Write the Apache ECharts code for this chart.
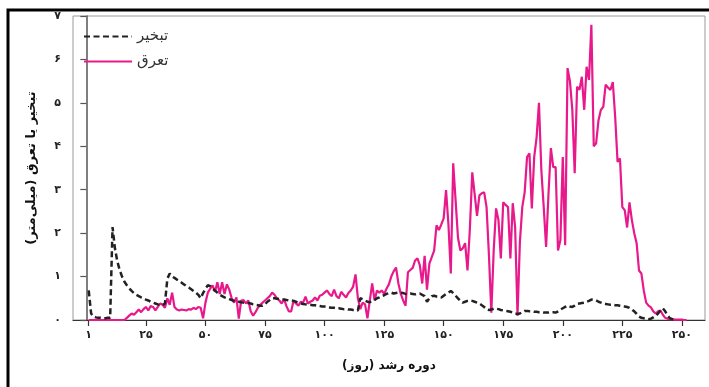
<!DOCTYPE html>
<html>
<head>
<meta charset="utf-8">
<script src="https://cdn.jsdelivr.net/npm/echarts@6/dist/echarts.min.js"></script>
<style>
  html, body { margin: 0; padding: 0; background: #fff; }
  #chart { width: 709px; height: 387px; }
</style>
</head>
<body>
<div id="chart"></div>
<script>
// Daily evaporation and transpiration (mm) over the growing season, day 1 onwards
const seriesNames = ['تبخیر', 'تعرق'];
const xTickValues = [1, 25, 50, 75, 100, 125, 150, 175, 200, 225, 250];
const xAxisTitle = 'دوره رشد (روز)';
const yAxisTitle = 'تبخیر یا تعرق (میلی‌متر)';

const evaporation = [
  0.68, 0.15, 0.08, 0.06, 0.05, 0.05, 0.04, 0.04, 0.05, 0.05,
  2.14, 1.65, 1.35, 1.15, 1.00, 0.88, 0.80, 0.73, 0.67, 0.62,
  0.58, 0.55, 0.52, 0.50, 0.47, 0.45, 0.42, 0.40, 0.38, 0.36,
  0.35, 0.34, 0.38, 0.95, 1.07, 1.00, 0.97, 0.93, 0.90, 0.86,
  0.82, 0.78, 0.75, 0.71, 0.67, 0.63, 0.58, 0.50, 0.62, 0.72,
  0.80, 0.78, 0.72, 0.68, 0.63, 0.58, 0.55, 0.52, 0.50, 0.48,
  0.46, 0.44, 0.42, 0.42, 0.41, 0.40, 0.40, 0.39, 0.38, 0.36,
  0.35, 0.34, 0.33, 0.33, 0.36, 0.42, 0.46, 0.50, 0.50, 0.49,
  0.48, 0.47, 0.47, 0.46, 0.45, 0.45, 0.44, 0.42, 0.40, 0.38,
  0.37, 0.36, 0.35, 0.35, 0.34, 0.34, 0.33, 0.32, 0.31, 0.31,
  0.30, 0.29, 0.28, 0.28, 0.27, 0.27, 0.26, 0.25, 0.25, 0.24,
  0.24, 0.23, 0.23, 0.22, 0.50, 0.48, 0.45, 0.42, 0.41, 0.43,
  0.46, 0.50, 0.52, 0.55, 0.57, 0.60, 0.62, 0.63, 0.61, 0.62,
  0.63, 0.63, 0.62, 0.60, 0.60, 0.61, 0.60, 0.59, 0.60, 0.61,
  0.58, 0.55, 0.42, 0.50, 0.55, 0.56, 0.54, 0.53, 0.52, 0.56,
  0.60, 0.63, 0.67, 0.62, 0.56, 0.50, 0.44, 0.40, 0.42, 0.44,
  0.45, 0.44, 0.42, 0.40, 0.38, 0.34, 0.30, 0.25, 0.23, 0.24,
  0.26, 0.26, 0.25, 0.23, 0.22, 0.21, 0.20, 0.19, 0.17, 0.15,
  0.14, 0.15, 0.18, 0.21, 0.21, 0.20, 0.20, 0.19, 0.19, 0.18,
  0.18, 0.17, 0.17, 0.17, 0.18, 0.18, 0.17, 0.20, 0.24, 0.27,
  0.30, 0.33, 0.31, 0.30, 0.33, 0.37, 0.38, 0.39, 0.40, 0.42,
  0.44, 0.47, 0.46, 0.45, 0.42, 0.40, 0.38, 0.37, 0.36, 0.35,
  0.35, 0.34, 0.34, 0.33, 0.32, 0.31, 0.30, 0.28, 0.24, 0.20,
  0.14, 0.08, 0.05, 0.04, 0.03, 0.02, 0.03, 0.06, 0.10, 0.15,
  0.22, 0.27, 0.20, 0.10, 0.04, 0.02, 0.01
];

const transpiration = [
  0, 0, 0, 0, 0, 0, 0, 0, 0, 0,
  0, 0, 0, 0, 0, 0, 0.05, 0.10, 0.15, 0.12,
  0.18, 0.24, 0.18, 0.25, 0.30, 0.22, 0.32, 0.30, 0.22, 0.30,
  0.38, 0.35, 0.28, 0.50, 0.35, 0.63, 0.30, 0.24, 0.22, 0.24,
  0.23, 0.22, 0.25, 0.24, 0.28, 0.25, 0.30, 0.28, 0.04, 0.40,
  0.63, 0.72, 0.80, 0.65, 0.87, 0.60, 0.87, 0.60, 0.82, 0.70,
  0.50, 0.40, 0.52, 0.03, 0.45, 0.46, 0.38, 0.45, 0.20, 0.10,
  0.18, 0.28, 0.35, 0.40, 0.45, 0.50, 0.55, 0.63, 0.58, 0.50,
  0.45, 0.38, 0.48, 0.32, 0.20, 0.20, 0.45, 0.38, 0.33, 0.42,
  0.40, 0.54, 0.38, 0.42, 0.45, 0.52, 0.45, 0.56, 0.58, 0.63,
  0.68, 0.60, 0.55, 0.70, 0.55, 0.50, 0.65, 0.58, 0.52, 0.62,
  0.68, 0.77, 1.05, 0.50, 0.25, 0.40, 0.36, 0.04, 0.45, 0.84,
  0.45, 0.68, 0.63, 0.68, 0.60, 0.72, 0.82, 1.00, 1.12, 1.21,
  0.84, 0.60, 0.45, 0.33, 1.10, 1.15, 1.20, 1.37, 1.42, 1.26,
  0.84, 1.48, 0.70, 1.30, 1.45, 1.60, 2.18, 2.07, 2.20, 2.34,
  2.99, 2.20, 1.07, 3.61, 2.76, 1.90, 1.60, 1.65, 1.77, 1.14,
  2.10, 3.40, 2.90, 2.40, 2.87, 2.92, 2.94, 2.60, 1.50, 0.17,
  1.60, 2.57, 2.30, 1.42, 2.71, 2.65, 2.60, 1.42, 2.69, 2.13,
  0.10, 1.80, 2.60, 2.94, 3.75, 3.84, 2.57, 3.75, 4.20, 5.00,
  3.45, 2.60, 1.68, 2.90, 3.96, 3.52, 3.52, 1.60, 1.84, 3.75,
  1.72, 5.80, 5.50, 4.84, 3.38, 5.37, 5.30, 5.60, 4.84, 5.83,
  5.53, 6.80, 4.00, 4.07, 4.60, 4.84, 4.91, 5.42, 5.35, 5.30,
  5.48, 4.67, 3.64, 3.72, 2.60, 2.53, 2.13, 2.71, 2.30, 2.00,
  1.77, 1.14, 1.07, 0.68, 0.40, 0.33, 0.29, 0.20, 0.15, 0.20,
  0.22, 0.12, 0.05, 0.03, 0.02, 0.02, 0.01, 0.01, 0.01, 0.01,
  0, 0
];

const persianDigits = '۰۱۲۳۴۵۶۷۸۹';
const toPersian = n => String(n).replace(/\d/g, d => persianDigits[d]);
// Right-to-left mark keeps the parentheses of Persian titles facing the right way
const rtl = s => s + '\u200F';
const byDay = values => values.map((v, i) => [i + 1, v]);

const FONT = "'DejaVu Sans', sans-serif";
const chart = echarts.init(document.getElementById('chart'), null, { renderer: 'canvas' });

chart.setOption({
  animation: false,
  backgroundColor: '#fff',
  textStyle: { fontFamily: FONT },
  graphic: [
    {
      type: 'rect',
      shape: { x: 8, y: 10, width: 760, height: 420 },
      style: { fill: 'none', stroke: '#000', lineWidth: 3 },
      silent: true
    }
  ],
  grid: {
    left: 73, right: 4, top: 16, bottom: 67,
    show: true, borderColor: '#9a9a9a', borderWidth: 1, backgroundColor: 'transparent'
  },
  legend: {
    orient: 'vertical',
    left: 78, top: 24,
    itemWidth: 48, itemHeight: 12, itemGap: 10,
    data: seriesNames,
    itemStyle: { opacity: 0 },
    textStyle: { fontFamily: FONT, fontSize: 15, color: '#333' }
  },
  xAxis: {
    type: 'value',
    min: -5.6, max: 259.7,
    name: rtl(xAxisTitle),
    nameLocation: 'middle',
    nameGap: 40,
    nameTextStyle: { fontFamily: FONT, fontSize: 12, fontWeight: 'bold', color: '#111' },
    axisLine: { show: true, onZero: false, lineStyle: { color: '#333', width: 1.2 } },
    axisTick: { show: true, length: 6, customValues: xTickValues, lineStyle: { color: '#333', width: 1.2 } },
    axisLabel: {
      customValues: xTickValues, margin: 10,
      formatter: v => toPersian(v),
      fontFamily: FONT, fontSize: 11, fontWeight: 'bold', color: '#222'
    },
    splitLine: { show: false }
  },
  yAxis: {
    type: 'value',
    min: 0, max: 7, interval: 1,
    name: rtl(yAxisTitle),
    nameLocation: 'middle',
    nameGap: 35,
    nameRotate: 90,
    nameTextStyle: { fontFamily: FONT, fontSize: 13, fontWeight: 'bold', color: '#111' },
    axisLine: { show: true, lineStyle: { color: '#555', width: 1.5 } },
    axisTick: { show: true, length: 6, lineStyle: { color: '#555', width: 1.2 } },
    axisLabel: {
      margin: 12,
      formatter: v => toPersian(v),
      fontFamily: FONT, fontSize: 11, fontWeight: 'bold', color: '#222'
    },
    splitLine: { show: false }
  },
  series: [
    {
      name: seriesNames[0],
      type: 'line',
      data: byDay(evaporation),
      symbol: 'none',
      z: 3,
      lineStyle: { color: '#222', width: 2.5, type: [6, 3.5] },
      itemStyle: { color: '#222' }
    },
    {
      name: seriesNames[1],
      type: 'line',
      data: byDay(transpiration),
      symbol: 'none',
      z: 2,
      lineStyle: { color: '#E8198B', width: 2.2 },
      itemStyle: { color: '#E8198B' }
    }
  ]
});
</script>
</body>
</html>
